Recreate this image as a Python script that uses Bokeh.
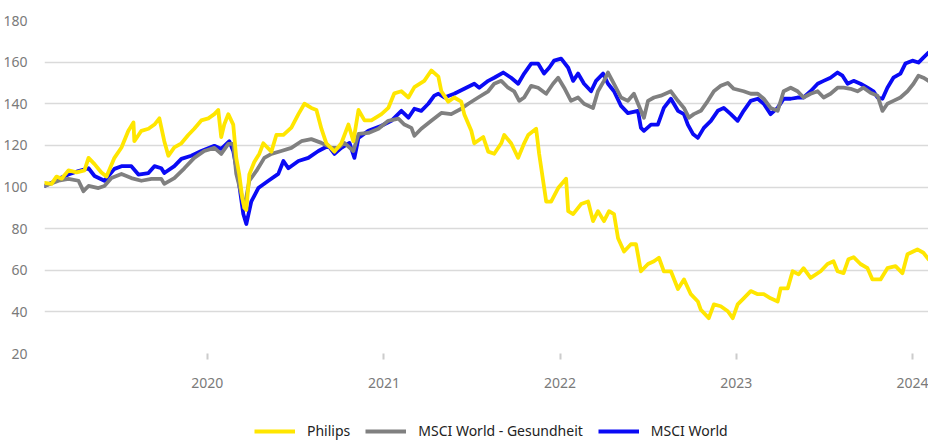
from datetime import datetime
from bokeh.plotting import figure
from bokeh.layouts import column
from bokeh.models import (Range1d, FixedTicker, DatetimeTickFormatter, Legend,
                          LegendItem, ColumnDataSource)
from bokeh.embed import file_html
from bokeh.resources import INLINE

# ---------------- data (decimal years, indexed values) ----------------
philips_t = [2019.076, 2019.116, 2019.144, 2019.173, 2019.212, 2019.258, 2019.303, 2019.326, 2019.360, 2019.399,
             2019.428, 2019.473, 2019.513, 2019.552, 2019.581, 2019.586, 2019.626, 2019.666, 2019.700, 2019.728,
             2019.756, 2019.779, 2019.813, 2019.853, 2019.892, 2019.926, 2019.966, 2020.006, 2020.040, 2020.062,
             2020.079, 2020.096, 2020.119, 2020.147, 2020.164, 2020.181, 2020.198, 2020.210, 2020.221, 2020.238,
             2020.266, 2020.295, 2020.317, 2020.340, 2020.363, 2020.391, 2020.431, 2020.476, 2020.516, 2020.550,
             2020.589, 2020.618, 2020.646, 2020.674, 2020.720, 2020.759, 2020.799, 2020.827, 2020.856, 2020.890,
             2020.929, 2020.986, 2021.025, 2021.059, 2021.099, 2021.139, 2021.173, 2021.229, 2021.269, 2021.309,
             2021.326, 2021.365, 2021.399, 2021.439, 2021.456, 2021.496, 2021.513, 2021.564, 2021.592, 2021.626,
             2021.666, 2021.683, 2021.722, 2021.762, 2021.796, 2021.819, 2021.864, 2021.881, 2021.909, 2021.921,
             2021.949, 2021.989, 2022.034, 2022.046, 2022.074, 2022.119, 2022.159, 2022.187, 2022.215, 2022.249,
             2022.278, 2022.306, 2022.329, 2022.363, 2022.402, 2022.431, 2022.459, 2022.499, 2022.533, 2022.561,
             2022.589, 2022.629, 2022.669, 2022.703, 2022.742, 2022.782, 2022.799, 2022.844, 2022.873, 2022.912,
             2022.952, 2022.980, 2023.008, 2023.042, 2023.082, 2023.122, 2023.156, 2023.195, 2023.235, 2023.252,
             2023.292, 2023.320, 2023.354, 2023.382, 2023.422, 2023.479, 2023.518, 2023.552, 2023.575, 2023.609,
             2023.637, 2023.666, 2023.705, 2023.745, 2023.773, 2023.819, 2023.858, 2023.904, 2023.943, 2023.972,
             2024.028, 2024.062, 2024.091]
philips_v = [102, 101.5, 105, 104, 108, 107, 108, 114, 111, 107,
             105, 114, 119, 127, 131, 122, 127, 128, 130, 133,
             122, 115, 119, 121, 125, 128, 132, 133, 135, 137,
             124, 130, 135, 130, 114, 106, 95, 90, 89, 106,
             112, 116, 121, 119, 117, 125, 125, 128.5, 135, 140,
             138, 137, 128, 121, 117, 121, 130, 122, 137, 132,
             132, 135, 138, 145, 146, 143, 148, 151, 156, 153,
             146, 141, 143, 141, 135, 127, 121, 124, 117, 116,
             121, 125, 121, 114, 121, 125, 128, 116, 100, 93,
             93, 99.5, 104, 88.4, 87, 91.8, 93, 83.6, 88.4, 83.6,
             88.4, 87, 75.4, 69, 72.5, 72.5, 59.5, 63, 64.3, 66,
             59.5, 59.5, 51, 55.6, 48.5, 45, 41, 37, 43.6, 42.7,
             40.3, 37, 43.6, 46.5, 50, 48.5, 48.5, 46.5, 45, 51.3,
             51.3, 59.5, 58, 61, 56.3, 59.5, 63, 64.3, 59.5, 58.6,
             65.3, 66.3, 63, 61, 55.6, 55.6, 61, 62, 58.6, 67.7,
             70, 68.4, 65.3]

health_t = [2019.076, 2019.156, 2019.212, 2019.269, 2019.297, 2019.326, 2019.382, 2019.416, 2019.456, 2019.513,
            2019.569, 2019.626, 2019.683, 2019.739, 2019.756, 2019.813, 2019.870, 2019.926, 2019.983, 2020.040,
            2020.079, 2020.119, 2020.147, 2020.164, 2020.193, 2020.210, 2020.238, 2020.278, 2020.323, 2020.363,
            2020.419, 2020.476, 2020.533, 2020.589, 2020.646, 2020.703, 2020.742, 2020.776, 2020.827, 2020.856,
            2020.912, 2020.969, 2021.025, 2021.082, 2021.116, 2021.156, 2021.173, 2021.212, 2021.269, 2021.326,
            2021.382, 2021.439, 2021.479, 2021.535, 2021.592, 2021.626, 2021.666, 2021.705, 2021.739, 2021.768,
            2021.796, 2021.836, 2021.875, 2021.921, 2021.960, 2021.989, 2022.023, 2022.062, 2022.102, 2022.136,
            2022.187, 2022.215, 2022.249, 2022.272, 2022.306, 2022.346, 2022.385, 2022.419, 2022.459, 2022.476,
            2022.499, 2022.533, 2022.572, 2022.629, 2022.669, 2022.703, 2022.731, 2022.759, 2022.799, 2022.839,
            2022.873, 2022.912, 2022.952, 2022.986, 2023.042, 2023.082, 2023.122, 2023.156, 2023.195, 2023.235,
            2023.269, 2023.309, 2023.348, 2023.382, 2023.422, 2023.462, 2023.496, 2023.535, 2023.575, 2023.609,
            2023.649, 2023.688, 2023.722, 2023.762, 2023.802, 2023.830, 2023.858, 2023.892, 2023.932, 2023.972,
            2024.006, 2024.034, 2024.062, 2024.091]
health_v = [100.5, 103, 103.9, 103, 98, 100.5, 99.5, 100.5, 104.3, 106.3,
            104.3, 103, 103.9, 103.9, 101.5, 104.3, 109, 114, 117.3, 118.8,
            115.9, 120.7, 120.7, 106.3, 96.6, 90, 103, 107.7, 114, 115.9,
            117.3, 118.8, 122, 123, 121.2, 118.8, 118.8, 121.2, 117.3, 125.5,
            126, 128, 131.8, 132.8, 130, 128.4, 124.6, 128, 131.8, 135.6,
            135, 137.6, 140, 143, 146, 149.6, 151, 147.7, 146, 141.4,
            143, 148.6, 147.7, 144.8, 149.6, 152.5, 147.7, 141.4, 143, 140,
            138, 146, 151, 155, 149.6, 143, 141.4, 144.8, 136.6, 133.3,
            141.4, 143, 143.9, 146, 141.4, 138, 133.3, 135, 136.6, 141.4,
            146, 148.6, 150, 147.2, 146, 144.8, 144.8, 142.4, 138, 136.6,
            146, 147.7, 146, 143, 144.8, 146, 143, 144.8, 147.7, 147.7,
            147.2, 146, 147.7, 145.3, 143.9, 136.6, 140, 141.4, 143, 146,
            149.6, 153.5, 152.5, 151]

world_t = [2019.076, 2019.116, 2019.156, 2019.212, 2019.269, 2019.326, 2019.360, 2019.416, 2019.473, 2019.513,
           2019.569, 2019.609, 2019.666, 2019.700, 2019.739, 2019.756, 2019.813, 2019.853, 2019.909, 2019.966,
           2020.040, 2020.079, 2020.125, 2020.147, 2020.176, 2020.204, 2020.221, 2020.249, 2020.289, 2020.346,
           2020.402, 2020.431, 2020.459, 2020.516, 2020.572, 2020.629, 2020.686, 2020.720, 2020.759, 2020.805,
           2020.833, 2020.856, 2020.912, 2020.986, 2021.042, 2021.099, 2021.139, 2021.173, 2021.212, 2021.252,
           2021.286, 2021.309, 2021.343, 2021.399, 2021.456, 2021.513, 2021.541, 2021.592, 2021.626, 2021.677,
           2021.722, 2021.762, 2021.796, 2021.836, 2021.875, 2021.909, 2021.938, 2021.966, 2022.006, 2022.046,
           2022.074, 2022.102, 2022.136, 2022.176, 2022.204, 2022.244, 2022.272, 2022.306, 2022.346, 2022.385,
           2022.442, 2022.459, 2022.476, 2022.516, 2022.555, 2022.589, 2022.629, 2022.669, 2022.703, 2022.725,
           2022.754, 2022.782, 2022.816, 2022.856, 2022.895, 2022.929, 2022.969, 2023.008, 2023.042, 2023.082,
           2023.122, 2023.156, 2023.195, 2023.235, 2023.269, 2023.309, 2023.348, 2023.382, 2023.422, 2023.462,
           2023.496, 2023.535, 2023.575, 2023.603, 2023.632, 2023.666, 2023.705, 2023.745, 2023.779, 2023.802,
           2023.830, 2023.858, 2023.892, 2023.932, 2023.960, 2024.000, 2024.034, 2024.062, 2024.091]
world_v = [100.5, 102, 104, 106, 107.7, 109, 105.3, 103, 108.7, 110,
           110, 106, 106.7, 110, 109, 106.7, 110, 113.5, 115, 117.3,
           119.8, 118.3, 122, 117.3, 104, 87, 82.2, 93, 99.5, 103,
           106.3, 112.5, 109, 112.5, 114, 117.3, 119.8, 115.9, 118.8, 121.2,
           114, 123.6, 127, 129.4, 131.8, 136.6, 133.3, 137.6, 136.6, 140,
           143.9, 144.8, 143, 144.8, 147.2, 149.6, 147.7, 151, 152.5, 155,
           152.5, 149.6, 154.5, 159.3, 159.3, 154.5, 157.3, 160.7, 161.7, 157.3,
           151, 154.5, 149.6, 146, 151, 154.5, 149.6, 146, 139, 135.5,
           136.6, 128.4, 127, 130, 130, 138, 142.4, 136.6, 135, 130,
           125.5, 123.6, 128.4, 131.8, 136.6, 138, 135, 131.8, 136.6, 141.4,
           142.4, 140, 135, 138, 142.4, 142.4, 143, 143, 146, 149.6,
           151, 152.5, 155, 153.5, 149.6, 151, 149.6, 147.7, 146, 143,
           142.4, 147.7, 152.5, 154.5, 159.3, 160.7, 159.8, 162.2, 164.6]

series_names = ["Philips", "MSCI World - Gesundheit", "MSCI World"]
series_colors = ["#FFE600", "#808080", "#0A0AF5"]
y_ticks = [20, 40, 60, 80, 100, 120, 140, 160, 180]
x_tick_years = [2020, 2021, 2022, 2023, 2024]
date_start, date_end = 2019.076, 2024.091


def to_dt(y):
    yr = int(y)
    frac = y - yr
    a = datetime(yr, 1, 1)
    b = datetime(yr + 1, 1, 1)
    return a + (b - a) * frac


def to_ms(d):
    return (d - datetime(1970, 1, 1)).total_seconds() * 1000.0


FONT = "Noto Sans"
W = 928

p = figure(width=W, height=403, x_axis_type="datetime", output_backend="svg",
           toolbar_location=None, x_range=Range1d(to_dt(date_start), to_dt(date_end)),
           y_range=Range1d(20, 180), min_border_left=43, min_border_right=0,
           min_border_top=20, min_border_bottom=50)
p.outline_line_color = None
p.background_fill_color = "white"
p.border_fill_color = "white"

p.xgrid.grid_line_color = None
p.ygrid.grid_line_color = "#dadada"
p.ygrid.grid_line_width = 1.5
p.ygrid.ticker = FixedTicker(ticks=y_ticks)

p.yaxis.ticker = FixedTicker(ticks=y_ticks)
p.yaxis.axis_line_color = None
p.yaxis.major_tick_line_color = None
p.yaxis.minor_tick_line_color = None
p.yaxis.major_label_standoff = 11
p.yaxis.major_label_text_font = FONT
p.yaxis.major_label_text_font_size = "14px"
p.yaxis.major_label_text_color = "#7a7a7a"

p.xaxis.ticker = FixedTicker(ticks=[to_ms(datetime(y, 1, 1)) for y in x_tick_years])
p.xaxis.formatter = DatetimeTickFormatter(years="%Y", months="%Y", days="%Y", hours="%Y",
                                          minutes="%Y", seconds="%Y", milliseconds="%Y")
p.xaxis.axis_line_color = None
p.xaxis.major_tick_line_color = "#cccccc"
p.xaxis.major_tick_line_width = 2
p.xaxis.major_tick_in = 0
p.xaxis.major_tick_out = 6
p.xaxis.minor_tick_line_color = None
p.xaxis.major_label_standoff = 18
p.xaxis.major_label_text_font = FONT
p.xaxis.major_label_text_font_size = "14px"
p.xaxis.major_label_text_color = "#7a7a7a"

data = {
    "Philips": (philips_t, philips_v),
    "MSCI World - Gesundheit": (health_t, health_v),
    "MSCI World": (world_t, world_v),
}
renderers = {}
for name in ["MSCI World", "MSCI World - Gesundheit", "Philips"]:
    t, v = data[name]
    src = ColumnDataSource(dict(x=[to_dt(a) for a in t], y=v))
    color = series_colors[series_names.index(name)]
    renderers[name] = p.line("x", "y", source=src, line_color=color, line_width=3.8,
                             line_join="round", line_cap="round")

# ---------------- legend strip below the chart ----------------
lg = figure(width=W, height=41, output_backend="svg", toolbar_location=None,
            x_range=Range1d(0, 1), y_range=Range1d(0, 1),
            x_axis_location=None, y_axis_location=None,
            min_border_left=0, min_border_right=0, min_border_top=0, min_border_bottom=0)
lg.outline_line_color = None
lg.grid.visible = False
items = []
for n, c in zip(series_names, series_colors):
    # keys drawn only in the legend (points lie outside the visible range)
    r = lg.line([5, 6], [5, 6], line_color=c, line_width=4)
    items.append(LegendItem(label=n, renderers=[r]))
legend = Legend(items=items, orientation="horizontal", location=(210, 4), padding=0, margin=0,
                spacing=15, glyph_width=41, glyph_height=16, label_height=16, label_standoff=12,
                border_line_color=None, background_fill_alpha=0,
                label_text_font=FONT, label_text_font_size="14px", label_text_color="#222222")
lg.add_layout(legend)

layout = column(p, lg, spacing=0)
open("out.html", "w").write(file_html(layout, INLINE))
